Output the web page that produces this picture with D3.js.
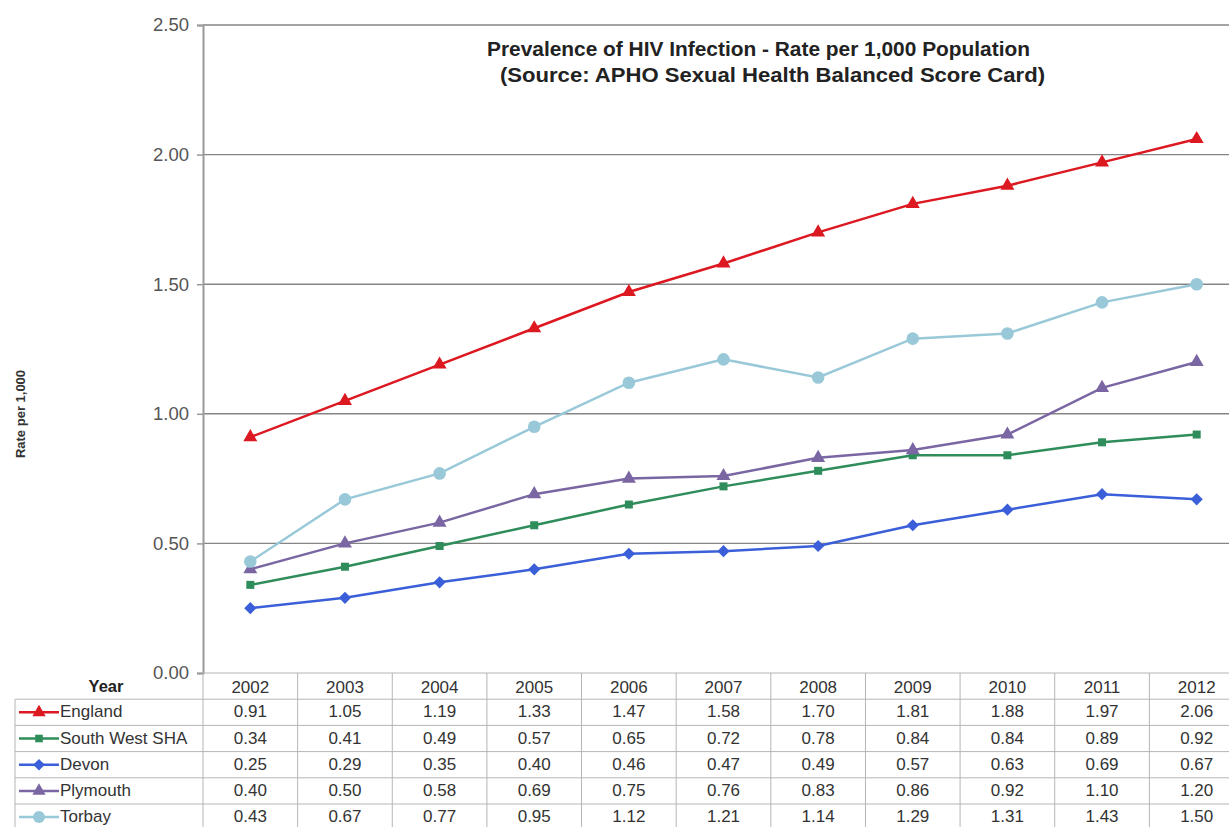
<!DOCTYPE html>
<html><head><meta charset="utf-8">
<script src="https://cdn.jsdelivr.net/npm/d3@7"></script>
<style>body{margin:0;background:#fff;}svg{display:block;font-family:"Liberation Sans",Arial,sans-serif;}</style>
</head><body><svg id="c" width="1229" height="827"></svg>
<script>
const years = ["2002","2003","2004","2005","2006","2007","2008","2009","2010","2011","2012"];
const seriesNames = ["England","South West SHA","Devon","Plymouth","Torbay"];
const england  = [0.91,1.05,1.19,1.33,1.47,1.58,1.70,1.81,1.88,1.97,2.06];
const southWest= [0.34,0.41,0.49,0.57,0.65,0.72,0.78,0.84,0.84,0.89,0.92];
const devon    = [0.25,0.29,0.35,0.40,0.46,0.47,0.49,0.57,0.63,0.69,0.67];
const plymouth = [0.40,0.50,0.58,0.69,0.75,0.76,0.83,0.86,0.92,1.10,1.20];
const torbay   = [0.43,0.67,0.77,0.95,1.12,1.21,1.14,1.29,1.31,1.43,1.50];
const yTicks = [0,0.5,1,1.5,2,2.5];
const colors = ["#dc1820","#2e8d5a","#3a5fd8","#7a66a2","#99c9d8"];
const markers = ["triangle","square","diamond","triangle","circle"];
const seriesValues = [england,southWest,devon,plymouth,torbay];

const svg = d3.select("#c");
const pLeft = 203, pRight = 1244, pTop = 25, pBottom = 673;
const x = d3.scaleBand().domain(years).range([pLeft,pRight]).padding(0);
const y = d3.scaleLinear().domain([0,2.5]).range([pBottom,pTop]);

// gridlines
svg.append("g").selectAll("line").data(yTicks.filter(d=>d>0)).join("line")
  .attr("x1",pLeft).attr("x2",1229).attr("y1",d=>y(d)).attr("y2",d=>y(d))
  .attr("stroke","#858585").attr("stroke-width",1.4);

// y axis
const yAxis = d3.axisLeft(y).tickValues(yTicks).tickFormat(d3.format(".2f")).tickSize(6).tickPadding(8);
const ya = svg.append("g").attr("transform",`translate(${pLeft},0)`).call(yAxis);
ya.select(".domain").attr("stroke","#999").attr("stroke-width",2);
ya.selectAll(".tick line").attr("stroke","#999").attr("stroke-width",1.5);
ya.selectAll("text").attr("font-size",18.5).attr("fill","#555").attr("font-family","Liberation Sans, Arial");

// y label
svg.append("text").attr("transform","translate(25,414) rotate(-90)").attr("text-anchor","middle")
  .attr("font-size",13).attr("font-weight","bold").attr("fill","#333").text("Rate per 1,000");

// title
const title = svg.append("g").attr("font-weight","bold").attr("font-size",20).attr("fill","#222");
title.append("text").attr("x",487).attr("y",56).attr("textLength",543).attr("lengthAdjust","spacingAndGlyphs").text("Prevalence of HIV Infection - Rate per 1,000 Population");
title.append("text").attr("x",500).attr("y",82).attr("textLength",545).attr("lengthAdjust","spacingAndGlyphs").text("(Source: APHO Sexual Health Balanced Score Card)");

function symbolFor(m, s){
  s = s || 1;
  if(m==="triangle") return d3.symbol(d3.symbolTriangle, 85*s)();
  if(m==="square") return d3.symbol(d3.symbolSquare, 64*s)();
  if(m==="diamond") return d3.symbol(d3.symbolDiamond2, 95*s)();
  return d3.symbol(d3.symbolCircle, 125*s)();
}

const line = d3.line().x((d,i)=>x(years[i])+x.bandwidth()/2).y(d=>y(d));
seriesValues.forEach((vals,si)=>{
  const g = svg.append("g");
  g.append("path").datum(vals).attr("d",line).attr("fill","none").attr("stroke",colors[si]).attr("stroke-width",2.5);
  g.selectAll("path.m").data(vals).join("path").attr("class","m")
    .attr("d",symbolFor(markers[si]))
    .attr("transform",(d,i)=>`translate(${x(years[i])+x.bandwidth()/2},${y(d)})`)
    .attr("fill",colors[si]);
});

// data table
const rowH = 26.2, headTop = pBottom, tableLeft = 15;
const tbl = svg.append("g").attr("font-size",17).attr("fill","#333");
const gridC = "#b5b5b5";
years.forEach((yr,i)=>{
  tbl.append("line").attr("x1",x(yr)).attr("x2",x(yr)).attr("y1",headTop).attr("y2",827).attr("stroke",gridC);
  tbl.append("text").attr("x",x(yr)+x.bandwidth()/2).attr("y",headTop+20).attr("text-anchor","middle").attr("fill","#333").text(yr);
});
tbl.append("line").attr("x1",pRight).attr("x2",pRight).attr("y1",headTop).attr("y2",827).attr("stroke",gridC);
tbl.append("line").attr("x1",pLeft).attr("x2",pRight).attr("y1",headTop).attr("y2",headTop).attr("stroke",gridC);
tbl.append("text").attr("x",106).attr("y",headTop+19).attr("text-anchor","middle").attr("font-weight","bold").attr("font-size",16.5).attr("fill","#222").text("Year");
for(let r=1;r<=5;r++){
  tbl.append("line").attr("x1",tableLeft).attr("x2",pRight).attr("y1",headTop+rowH*r).attr("y2",headTop+rowH*r).attr("stroke",gridC);
}
tbl.append("line").attr("x1",tableLeft).attr("x2",tableLeft).attr("y1",headTop+rowH).attr("y2",827).attr("stroke",gridC);

seriesNames.forEach((nm,si)=>{
  const cy = headTop + rowH*(si+1) + rowH/2;
  tbl.append("line").attr("x1",19).attr("x2",59).attr("y1",cy).attr("y2",cy).attr("stroke",colors[si]).attr("stroke-width",2.5);
  tbl.append("path").attr("d",symbolFor(markers[si],0.9)).attr("transform",`translate(39,${cy})`).attr("fill",colors[si]);
  tbl.append("text").attr("x",60).attr("y",cy+5).attr("fill","#333").text(nm);
  seriesValues[si].forEach((v,i)=>{
    tbl.append("text").attr("x",x(years[i])+x.bandwidth()/2).attr("y",cy+5).attr("text-anchor","middle").attr("fill","#333").text(d3.format(".2f")(v));
  });
});
</script></body></html>
